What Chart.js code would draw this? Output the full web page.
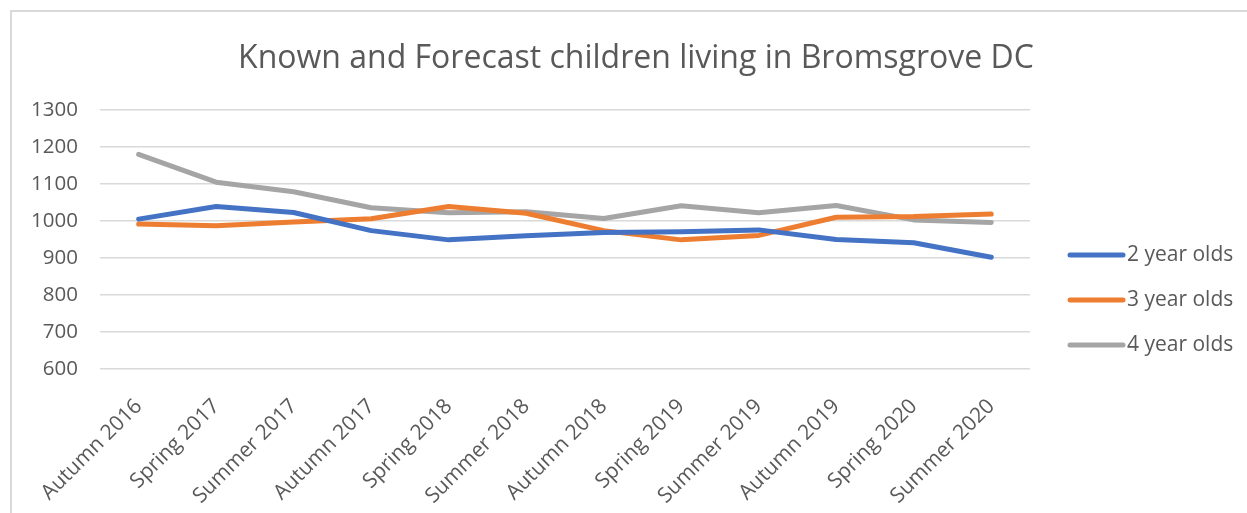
<!DOCTYPE html>
<html>
<head>
<meta charset="utf-8">
<script src="https://cdn.jsdelivr.net/npm/chart.js@4"></script>
<style>
    html, body { margin: 0; padding: 0; background: #fff; }
    #wrap { position: relative; width: 1247px; height: 513px; }
    #frame {
        position: absolute; left: 10px; top: 10px; right: -5px; bottom: -5px;
        border-left: 2px solid #d9d9d9; border-top: 2px solid #d9d9d9;
        pointer-events: none;
    }
</style>
</head>
<body>
<div id="wrap">
    <canvas id="chart" width="1247" height="513"></canvas>
    <div id="frame"></div>
</div>
<script>
// Donnees
const terms = ['Autumn 2016', 'Spring 2017', 'Summer 2017', 'Autumn 2017', 'Spring 2018', 'Summer 2018',
               'Autumn 2018', 'Spring 2019', 'Summer 2019', 'Autumn 2019', 'Spring 2020', 'Summer 2020'];
const twoYearOlds   = [1005, 1039, 1023, 974, 949, 960, 969, 971, 976, 950, 941, 902];
const threeYearOlds = [992, 987, 997, 1006, 1039, 1021, 974, 949, 961, 1010, 1012, 1019];
const fourYearOlds  = [1180, 1105, 1079, 1036, 1022, 1025, 1007, 1041, 1022, 1042, 1003, 996];
const seriesNames = ['2 year olds', '3 year olds', '4 year olds'];
const yTicks = [600, 700, 800, 900, 1000, 1100, 1200, 1300];
const chartTitle = 'Known and Forecast children living in Bromsgrove DC';

const textColor = '#595959';
const fontFamily = "'Open Sans', sans-serif";

// Titre et legende dessines a la main (facon Excel)
const excelDecor = {
    id: 'excelDecor',
    afterDraw(chart) {
        const ctx = chart.ctx;
        ctx.save();
        ctx.fillStyle = textColor;
        ctx.textBaseline = 'middle';
        ctx.textAlign = 'center';
        ctx.font = '32px ' + fontFamily;
        ctx.fillText(chartTitle, 636, 59);

        ctx.font = '21px ' + fontFamily;
        ctx.textAlign = 'left';
        chart.data.datasets.forEach((ds, i) => {
            const y = 255 + i * 45;
            ctx.strokeStyle = ds.borderColor;
            ctx.lineWidth = 5;
            ctx.lineCap = 'round';
            ctx.beginPath();
            ctx.moveTo(1070, y);
            ctx.lineTo(1123, y);
            ctx.stroke();
            ctx.fillText(ds.label, 1127, y);
        });
        ctx.restore();
    }
};

const ctx = document.getElementById('chart').getContext('2d');
new Chart(ctx, {
    type: 'line',
    data: {
        labels: terms,
        datasets: [
            { label: seriesNames[0], data: twoYearOlds, borderColor: '#4472C4' },
            { label: seriesNames[1], data: threeYearOlds, borderColor: '#ED7D31' },
            { label: seriesNames[2], data: fourYearOlds, borderColor: '#A5A5A5' }
        ].map(ds => Object.assign(ds, {
            borderWidth: 5,
            pointRadius: 0,
            tension: 0,
            fill: false,
            borderCapStyle: 'round',
            borderJoinStyle: 'round'
        }))
    },
    options: {
        responsive: false,
        animation: false,
        layout: {
            autoPadding: false, // les etiquettes inclinees ne decalent pas la zone du graphique
            padding: { left: 9, right: 217, top: 110, bottom: 0 }
        },
        plugins: {
            legend: { display: false },
            tooltip: { enabled: false },
            title: { display: false }
        },
        scales: {
            x: {
                offset: true,
                grid: { display: false, drawTicks: false },
                border: { display: false },
                ticks: {
                    color: textColor,
                    font: { family: fontFamily, size: 21 },
                    minRotation: 45,
                    maxRotation: 45,
                    autoSkip: false,
                    padding: 25
                },
                afterFit: axis => { axis.height = 144; }
            },
            y: {
                min: yTicks[0],
                max: yTicks[yTicks.length - 1],
                afterBuildTicks: axis => { axis.ticks = yTicks.map(v => ({ value: v })); },
                grid: { color: '#d9d9d9', lineWidth: 1.5, drawTicks: false },
                border: { display: false },
                ticks: {
                    color: textColor,
                    font: { family: fontFamily, size: 20.5 },
                    padding: 22,
                    callback: v => String(v)
                }
            }
        }
    },
    plugins: [excelDecor]
});
</script>
</body>
</html>
